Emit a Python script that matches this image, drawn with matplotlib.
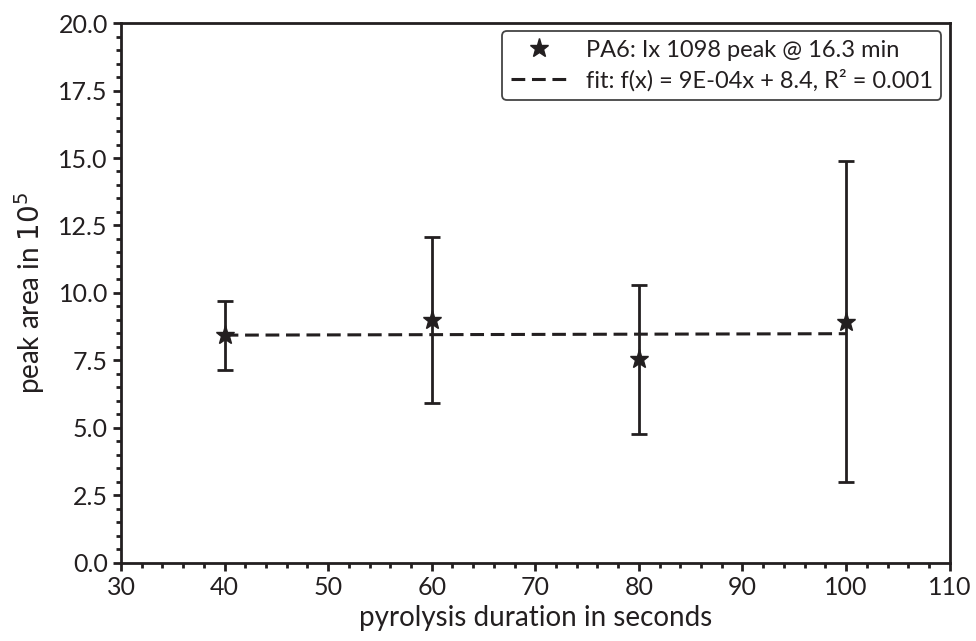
import numpy as np
import matplotlib
matplotlib.use("Agg")
import matplotlib.pyplot as plt
from matplotlib.ticker import MultipleLocator, FormatStrFormatter

plt.rcParams['font.family'] = ['Lato', 'DejaVu Sans']

# data
duration = [40, 60, 80, 100]
peak_area = [8.43, 9.00, 7.54, 8.94]
peak_err = [1.28, 3.06, 2.77, 5.95]

# linear fit as printed in the legend
slope = 9e-4
intercept = 8.4
r2 = 0.001

ink = '#231f20'

fig, ax = plt.subplots(figsize=(9.76, 6.41), dpi=100)
fig.subplots_adjust(left=0.124, right=0.973, top=0.964, bottom=0.122)

# error bars (no legend entry), then the stars on top
ax.errorbar(duration, peak_area, yerr=peak_err, fmt='none', ecolor=ink,
            elinewidth=2, capsize=5.5, capthick=2, zorder=3)
ax.plot(duration, peak_area, '*', color=ink, markersize=14, linestyle='none',
        label='PA6: Ix 1098 peak @ 16.3 min', zorder=4)

fit_x = np.array([min(duration), max(duration)])
ax.plot(fit_x, slope * fit_x + intercept, color=ink, linewidth=2.2,
        linestyle=(0, (4.5, 2.2)),
        label=f'fit: f(x) = 9E-04x + {intercept}, R² = {r2}', zorder=2)

ax.set_xlim(30, 110)
ax.set_ylim(0, 20)
ax.xaxis.set_major_locator(MultipleLocator(10))
ax.xaxis.set_minor_locator(MultipleLocator(2))
ax.yaxis.set_major_locator(MultipleLocator(2.5))
ax.yaxis.set_minor_locator(MultipleLocator(0.5))
ax.yaxis.set_major_formatter(FormatStrFormatter('%.1f'))

for s in ax.spines.values():
    s.set_linewidth(2)
    s.set_color(ink)
ax.tick_params(which='major', direction='out', length=6, width=2, color=ink,
               labelsize=18, labelcolor=ink)
ax.tick_params(which='minor', direction='out', length=3.5, width=2, color=ink)

ax.set_xlabel('pyrolysis duration in seconds', fontsize=20, color=ink, labelpad=4)
ax.set_ylabel('peak area in $10^5$', fontsize=20, color=ink, labelpad=8)

leg = ax.legend(loc='upper right', fontsize=17, frameon=True, fancybox=True,
                framealpha=1, edgecolor='#444444', handlelength=2.4,
                borderaxespad=0.35, borderpad=0.35, labelspacing=0.35)
leg.get_frame().set_linewidth(1.3)
for t in leg.get_texts():
    t.set_color(ink)

fig.savefig('out.png', dpi=100)
